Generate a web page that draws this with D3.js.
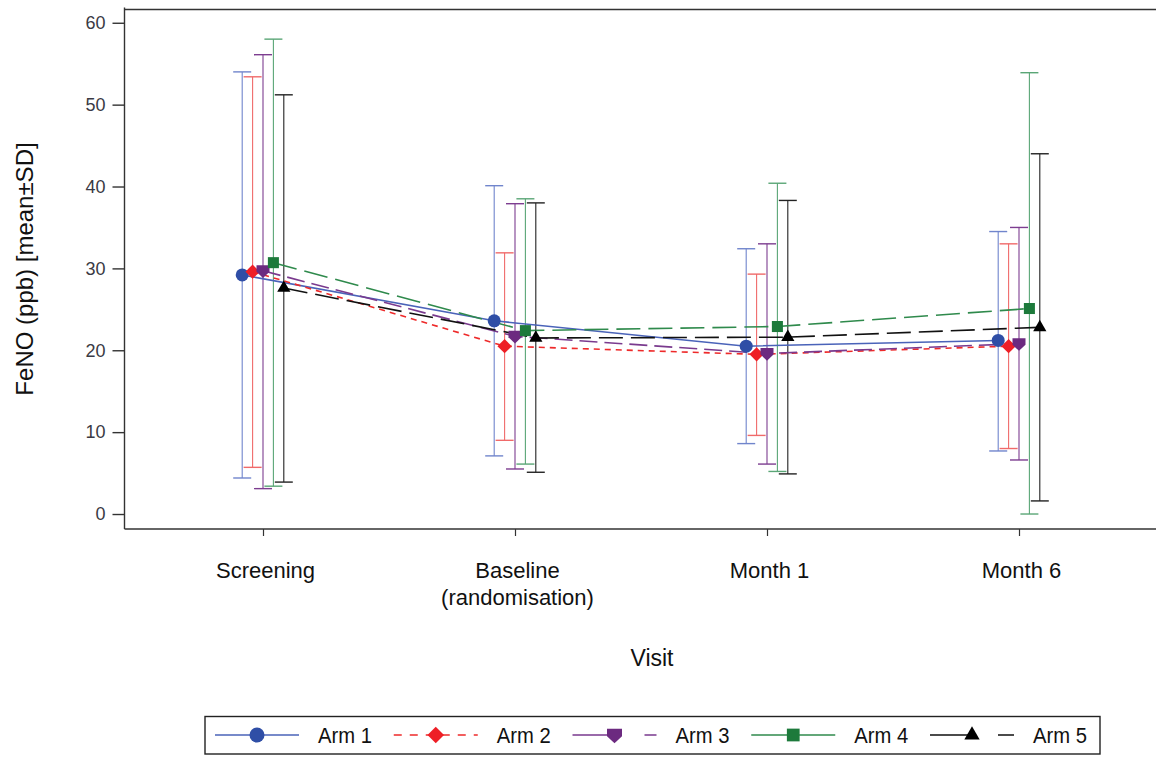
<!DOCTYPE html>
<html>
<head>
<meta charset="utf-8">
<script src="https://cdn.jsdelivr.net/npm/d3@7"></script>
<style>
  html, body { margin: 0; padding: 0; background: #fff; }
  svg { display: block; font-family: "Liberation Sans", Arial, sans-serif; }
</style>
</head>
<body>
<svg id="chart" width="1156" height="758"></svg>
<script>
// ---------- data ----------
const visits = ["Screening", "Baseline", "Month 1", "Month 6"];
const visitLabels = [["Screening"], ["Baseline", "(randomisation)"], ["Month 1"], ["Month 6"]];
const arms = ["Arm 1", "Arm 2", "Arm 3", "Arm 4", "Arm 5"];
const yTicks = [0, 10, 20, 30, 40, 50, 60];

const arm1Mean = [29.2, 23.6, 20.5, 21.2];
const arm1Low  = [4.4, 7.1, 8.6, 7.7];
const arm1High = [54.0, 40.1, 32.4, 34.5];

const arm2Mean = [29.6, 20.5, 19.5, 20.5];
const arm2Low  = [5.7, 9.0, 9.6, 8.0];
const arm2High = [53.4, 31.9, 29.3, 33.0];

const arm3Mean = [29.7, 21.7, 19.6, 20.8];
const arm3Low  = [3.1, 5.5, 6.1, 6.6];
const arm3High = [56.1, 37.9, 33.0, 35.0];

const arm4Mean = [30.7, 22.4, 22.9, 25.1];
const arm4Low  = [3.4, 6.1, 5.2, 0.0];
const arm4High = [58.0, 38.5, 40.4, 53.9];

const arm5Mean = [27.6, 21.5, 21.6, 22.8];
const arm5Low  = [3.9, 5.1, 4.9, 1.6];
const arm5High = [51.2, 38.0, 38.3, 44.0];

const means = [arm1Mean, arm2Mean, arm3Mean, arm4Mean, arm5Mean];
const lows  = [arm1Low, arm2Low, arm3Low, arm4Low, arm5Low];
const highs = [arm1High, arm2High, arm3High, arm4High, arm5High];

// ---------- styles ----------
const markerColors = ["#2f4ea6", "#ee1f26", "#6c2a80", "#1d7a3b", "#000000"];
const lineColors   = ["#4a63b9", "#ee2a2a", "#7a3a8e", "#2f8a4c", "#111111"];
const barColors    = ["#7085cc", "#f06a6a", "#7d3d90", "#5aa676", "#222222"];
const dashes       = [null, "6,5", "18,7", "24,8", "24,8"];
const legendDashes = [null, "8,8", "49,23", null, "44,24"];
const FONT = "'Liberation Sans', Arial, sans-serif";

const svg = d3.select("#chart");
const plotLeft = 124.5, plotTop = 9.5, plotBottom = 529, plotRight = 1160;

const y = d3.scaleLinear().domain([-1.83, 61.62]).range([plotBottom, plotTop]);
const x = d3.scalePoint().domain(visits).range([263, 1019]);
const off = d3.scalePoint().domain(arms).range([-20.8, 20.8]);

// frame top line
svg.append("line").attr("x1", plotLeft).attr("x2", plotRight).attr("y1", plotTop).attr("y2", plotTop)
  .attr("stroke", "#333").attr("stroke-width", 1.4);

// y axis
const yAxis = svg.append("g").attr("transform", `translate(${plotLeft},0)`)
  .call(d3.axisLeft(y).tickValues(yTicks).tickSize(12).tickPadding(7).tickFormat(d3.format("d")));
yAxis.select(".domain").attr("d", `M0,${plotTop - 2}V${plotBottom}`).attr("stroke", "#333").attr("stroke-width", 1.4);
yAxis.selectAll(".tick line").attr("stroke", "#333").attr("stroke-width", 1.4);
yAxis.selectAll(".tick text").attr("font-size", 18).attr("fill", "#3a3a44")
  .attr("font-family", FONT);

// x axis
const xAxis = svg.append("g").attr("transform", `translate(0,${plotBottom})`)
  .call(d3.axisBottom(x).tickSize(7).tickFormat(""));
xAxis.select(".domain").attr("d", `M${plotLeft},0H${plotRight}`).attr("stroke", "#333").attr("stroke-width", 1.4);
xAxis.selectAll(".tick line").attr("stroke", "#333").attr("stroke-width", 1.2);
xAxis.selectAll(".tick").each(function(d, i) {
  const t = d3.select(this).append("text").attr("fill", "#111").attr("font-size", 22)
    .attr("text-anchor", "middle").attr("font-family", FONT);
  visitLabels[i].forEach((s, j) => {
    t.append("tspan").attr("x", 2).attr("y", 49 + j * 27).text(s);
  });
});

// axis titles
svg.append("text").attr("x", 652).attr("y", 666).attr("text-anchor", "middle")
  .attr("font-size", 23).attr("fill", "#111").text("Visit");
svg.append("text").attr("transform", "translate(33,269) rotate(-90)").attr("text-anchor", "middle")
  .attr("font-size", 24).attr("fill", "#111").text("FeNO (ppb) [mean±SD]");

// markers
function markerPath(i, s) {
  const h = s / 2;
  if (i === 0) return d3.symbol(d3.symbolCircle, Math.PI * h * h)();
  if (i === 1) return `M0,${-h * 1.1}L${h * 1.1},0L0,${h * 1.1}L${-h * 1.1},0Z`;
  if (i === 2) return `M${-h},${-h * 0.85}L${h},${-h * 0.85}L${h},${h * 0.15}L0,${h * 1.1}L${-h},${h * 0.15}Z`;
  if (i === 3) return `M${-h * 0.85},${-h * 0.85}H${h * 0.85}V${h * 0.85}H${-h * 0.85}Z`;
  return d3.symbol(d3.symbolTriangle, s * s * 0.45)();
}

// error bars
const capHalf = 9;
arms.forEach((a, i) => {
  const g = svg.append("g");
  visits.forEach((v, k) => {
    const cx = x(v) + off(a);
    g.append("line").attr("x1", cx).attr("x2", cx).attr("y1", y(lows[i][k])).attr("y2", y(highs[i][k]))
      .attr("stroke", barColors[i]).attr("stroke-width", 1.1);
    [lows[i][k], highs[i][k]].forEach(val => {
      g.append("line").attr("x1", cx - capHalf).attr("x2", cx + capHalf).attr("y1", y(val)).attr("y2", y(val))
        .attr("stroke", barColors[i]).attr("stroke-width", 1.4);
    });
  });
});

// mean lines
arms.forEach((a, i) => {
  const line = d3.line().x((d, k) => x(visits[k]) + off(a)).y(d => y(d));
  svg.append("path").attr("d", line(means[i])).attr("fill", "none")
    .attr("stroke", lineColors[i]).attr("stroke-width", 1.6)
    .attr("stroke-dasharray", dashes[i]);
});

// mean markers
arms.forEach((a, i) => {
  svg.append("g").selectAll("path").data(means[i]).join("path")
    .attr("transform", (d, k) => `translate(${x(visits[k]) + off(a)},${y(d)})`)
    .attr("d", markerPath(i, 13)).attr("fill", markerColors[i]);
});

// legend
const lg = svg.append("g");
lg.append("rect").attr("x", 205).attr("y", 716.5).attr("width", 895).attr("height", 37.5)
  .attr("fill", "#fff").attr("stroke", "#222").attr("stroke-width", 1.4);
const legX = d3.scalePoint().domain(arms).range([215, 930]);
arms.forEach((a, i) => {
  const x0 = legX(a), ly = 735;
  lg.append("line").attr("x1", x0).attr("x2", x0 + 84).attr("y1", ly).attr("y2", ly)
    .attr("stroke", lineColors[i]).attr("stroke-width", 1.6).attr("stroke-dasharray", legendDashes[i]);
  lg.append("path").attr("transform", `translate(${x0 + 42},${ly})`).attr("d", markerPath(i, 15))
    .attr("fill", markerColors[i]);
  lg.append("text").attr("transform", `translate(${x0 + 103},${ly + 8}) scale(0.92,1)`)
    .attr("font-size", 22).attr("fill", "#111").text(a);
});
</script>
</body>
</html>
